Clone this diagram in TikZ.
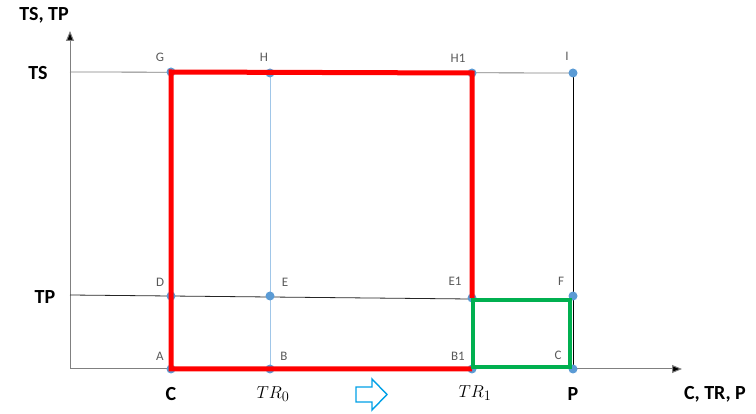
\documentclass[tikz,border=0pt]{standalone}
\usepackage{fontspec}
\setmainfont{Carlito}
\usetikzlibrary{arrows.meta}
\definecolor{axisgray}{RGB}{128,128,128}
\definecolor{dotblue}{RGB}{91,155,213}
\definecolor{paleblue}{RGB}{160,198,232}
\definecolor{boxgreen}{RGB}{0,176,80}
\definecolor{arrowblue}{RGB}{0,160,230}
\definecolor{labelgray}{RGB}{89,89,89}
\tikzset{
  axis/.style={draw=axisgray, line width=1pt, -{Triangle[length=10pt,width=8pt,fill=black]}},
  guide/.style={line width=0.8pt},
  pt/.style={fill=dotblue, draw=none},
  ptlabel/.style={text=labelgray, font=\fontsize{13}{13}\selectfont, inner sep=0pt},
  axlabel/.style={font=\fontsize{20}{20}\selectfont\bfseries, inner sep=0pt},
  mathlabel/.style={inner sep=0pt, font=\fontsize{19}{19}\selectfont},
  redpath/.style={draw=red, line width=5pt, line join=miter},
  greenpath/.style={draw=boxgreen, line width=4.5pt, line join=miter},
}
\begin{document}
\begin{tikzpicture}[x=1pt, y=-1pt]
\useasboundingbox (0,0) rectangle (756,414);

% axes
\coordinate (O) at (70,369);
\coordinate (ytip) at (70,31);
\coordinate (xtip) at (682,369);
\draw[axis] (O) -- (ytip);
\draw[axis] (O) -- (xtip);

% grid points
\coordinate (tsL) at (70,72);
\coordinate (tpL) at (70,295);
\coordinate (G) at (171,72);
\coordinate (H) at (270,73);
\coordinate (H1) at (472,73);
\coordinate (I) at (573,73);
\coordinate (D) at (171,296);
\coordinate (E) at (270,296);
\coordinate (E1) at (472,298);
\coordinate (F) at (573,296);
\coordinate (A) at (171,369);
\coordinate (B) at (270,369);
\coordinate (B1) at (472,369);
\coordinate (Cp) at (573,369);
\coordinate (tpR) at (570,300);

% thin guide lines
\draw[guide, axisgray] (tsL) -- (I);
\draw[guide, black!85] (tpL) -- (tpR);
\draw[guide, paleblue] (H) -- (B);
\draw[guide, black] (I) -- (Cp);

% points
\foreach \p in {G,H,H1,I,D,E,E1,F,A,B,B1,Cp}
  \fill[pt] (\p) circle (4.5pt);

% outlined regions
\draw[redpath] (E1) -- (H1) -- (G) -- (A) -- (B1);
\coordinate (gTL) at (473,300);
\coordinate (gBR) at (570,367);
\draw[greenpath] (gTL) rectangle (gBR);

% point labels
\node[ptlabel] (lG) at (160,57) {G};
\node[ptlabel] (lH) at (264,57) {H};
\node[ptlabel] (lH1) at (458,58) {H1};
\node[ptlabel] (lI) at (567,56) {I};
\node[ptlabel] (lD) at (160,282) {D};
\node[ptlabel] (lE) at (285,282) {E};
\node[ptlabel] (lE1) at (455,281) {E1};
\node[ptlabel] (lF) at (561,281) {F};
\node[ptlabel] (lA) at (160,356) {A};
\node[ptlabel] (lB) at (284,356) {B};
\node[ptlabel] (lB1) at (458,356) {B1};
\node[ptlabel] (lC) at (558,355) {C};

% axis labels
\node[axlabel] (yl) at (44,15) {TS, TP};
\node[axlabel] (ts) at (38,73) {TS};
\node[axlabel] (tp) at (45,297) {TP};
\node[axlabel] (xc) at (171,394) {C};
\node[axlabel] (xp) at (573,394) {P};
\node[axlabel] (xl) at (715,394) {C, TR, P};
\node[mathlabel] (tr0) at (273,394) {$TR_0$};
\node[mathlabel] (tr1) at (475,393) {$TR_1$};

% hollow shift arrow
\draw[arrowblue, line width=1.4pt, line join=miter]
  (356,387) -- (372,387) -- (372,379) -- (387,394.5) -- (372,410) -- (372,402) -- (356,402) -- cycle;
\end{tikzpicture}
\end{document}
